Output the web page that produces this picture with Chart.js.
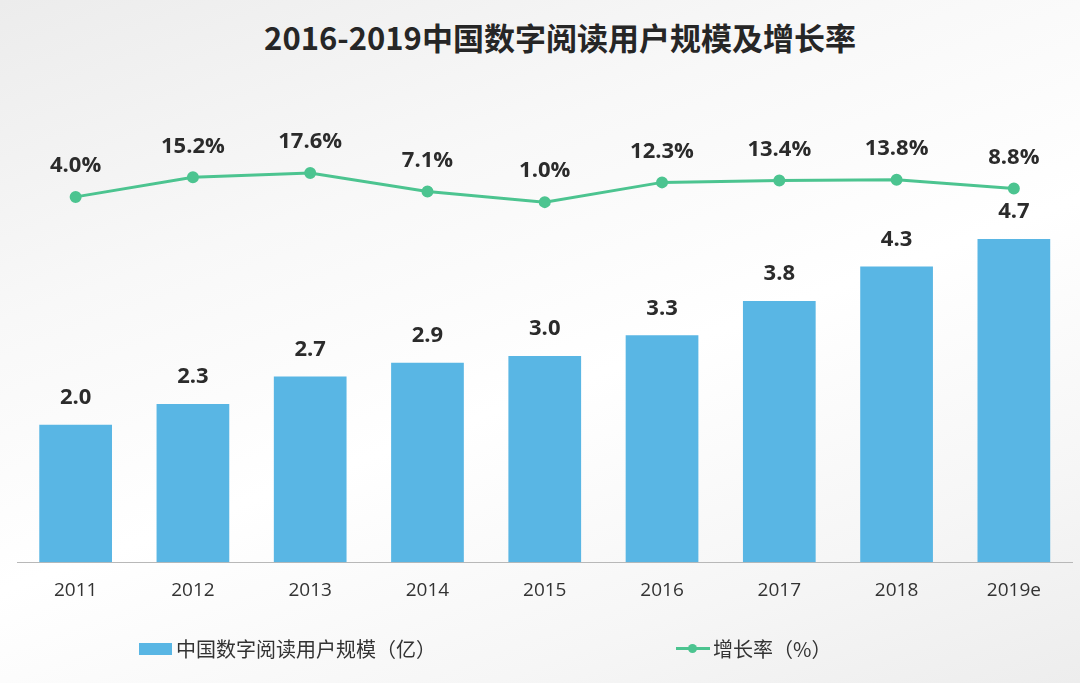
<!DOCTYPE html>
<html>
<head>
<meta charset="utf-8">
<script src="https://cdn.jsdelivr.net/npm/chart.js@4/dist/chart.umd.min.js"></script>
<style>
  html, body { margin: 0; padding: 0; }
  body {
    width: 1080px; height: 683px; position: relative; overflow: hidden;
    background: linear-gradient(160deg, #ececec 0%, #f8f8f8 30%, #ffffff 55%, #f6f6f6 80%, #ededed 100%);
    font-family: "Open Sans", "Noto Sans CJK SC", sans-serif;
  }
  #title {
    position: absolute; left: 20px; top: 14px; width: 1080px; text-align: center;
    font-family: "Noto Sans CJK SC", sans-serif; font-weight: bold; font-size: 31px; color: #262626;
  }
  .legend { position: absolute; top: 632px; font-family: "Noto Sans CJK SC", sans-serif; font-size: 20px; color: #333; line-height: 28px; }
  .legend span { display: inline-block; vertical-align: middle; }
  .box { width: 33px; height: 12px; background: #59b6e4; margin-right: 4px; }
  .ln { width: 34px; height: 3px; background: #4cc490; position: relative; margin-right: 3px; }
  .ln::after { content: ""; position: absolute; left: 12px; top: -3px; width: 9px; height: 9px; border-radius: 50%; background: #4cc490; }
  #chart { position: absolute; left: 0; top: 0; }
</style>
</head>
<body>
<div id="title">2016-2019中国数字阅读用户规模及增长率</div>
<canvas id="chart" width="1080" height="683"></canvas>
<div class="legend" style="left:139px"><span class="box"></span><span>中国数字阅读用户规模（亿）</span></div>
<div class="legend" style="left:676px"><span class="ln"></span><span>增长率（%）</span></div>
<script>
const years = ['2011', '2012', '2013', '2014', '2015', '2016', '2017', '2018', '2019e'];
const users = [2.0, 2.3, 2.7, 2.9, 3.0, 3.3, 3.8, 4.3, 4.7];
const growth = [4.0, 15.2, 17.6, 7.1, 1.0, 12.3, 13.4, 13.8, 8.8];

const ctx = document.getElementById('chart');

// line is dataset 0, bars are dataset 1
const valueLabels = {
    id: 'valueLabels',
    afterDatasetsDraw(chart) {
        const c = chart.ctx;
        c.save();
        c.fillStyle = '#2b2b2b';
        c.font = 'bold 22px "Open Sans", "Noto Sans", sans-serif';
        c.textAlign = 'center';
        c.textBaseline = 'middle';
        chart.getDatasetMeta(1).data.forEach((bar, i) => {
            c.fillText(users[i].toFixed(1), bar.x, bar.y - 27);
        });
        chart.getDatasetMeta(0).data.forEach((pt, i) => {
            c.fillText(growth[i].toFixed(1) + '%', pt.x, pt.y - 31);
        });
        c.restore();
    }
};

new Chart(ctx, {
    data: {
        labels: years,
        datasets: [{
            type: 'line',
            label: '增长率（%）',
            data: growth,
            yAxisID: 'y1',
            borderColor: '#4cc490',
            backgroundColor: '#4cc490',
            borderWidth: 3,
            pointRadius: 4.5,
            pointHoverRadius: 4.5,
            tension: 0,
            order: 0
        }, {
            type: 'bar',
            label: '中国数字阅读用户规模（亿）',
            data: users,
            yAxisID: 'y',
            backgroundColor: '#59b6e4',
            barPercentage: 1,
            categoryPercentage: 0.62,
            order: 1
        }]
    },
    options: {
        responsive: false,
        animation: false,
        layout: { padding: { left: 17, right: 7, top: 81, bottom: 72 } },
        plugins: { legend: { display: false }, tooltip: { enabled: false } },
        scales: {
            x: {
                grid: { display: false },
                border: { display: true, color: '#b8b8b8', width: 1 },
                ticks: { color: '#333', font: { size: 19, family: '"Open Sans", sans-serif' }, padding: 9 }
            },
            y: { display: false, min: 0, max: 7 },
            y1: { display: false, min: -205, max: 70.3 }
        }
    },
    plugins: [valueLabels]
});
</script>
</body>
</html>
